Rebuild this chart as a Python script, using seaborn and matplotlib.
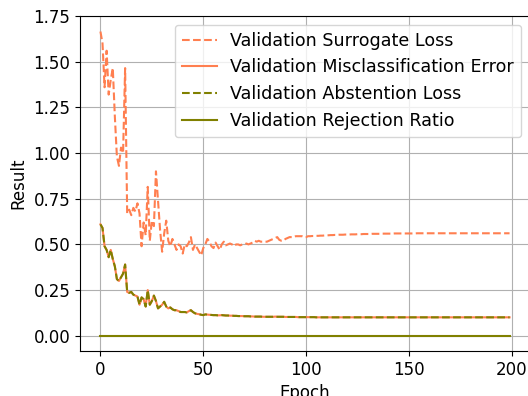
import numpy as np
import pandas as pd
import matplotlib
matplotlib.use("Agg")
import matplotlib.pyplot as plt
import seaborn as sns

epochs = list(range(200))

surrogate_loss = [
    1.665, 1.60, 1.36, 1.56, 1.32, 1.40, 1.465, 1.20, 0.98, 0.93,
    1.03, 1.00, 1.465, 0.67, 0.69, 0.66, 0.70, 0.68, 0.725, 0.67,
    0.49, 0.62, 0.55, 0.815, 0.52, 0.63, 0.60, 0.90, 0.74, 0.58,
    0.46, 0.56, 0.63, 0.52, 0.49, 0.53, 0.50, 0.47, 0.50, 0.49,
    0.45, 0.50, 0.49, 0.51, 0.54, 0.47, 0.50, 0.48, 0.46, 0.44,
    0.48, 0.50, 0.53, 0.515, 0.49, 0.48, 0.51, 0.49, 0.47, 0.50,
    0.515, 0.495, 0.50, 0.505, 0.50, 0.49, 0.50, 0.50, 0.495, 0.50,
    0.50, 0.505, 0.50, 0.505, 0.51, 0.52, 0.515, 0.52, 0.515, 0.515,
    0.515, 0.515, 0.52, 0.525, 0.53, 0.535, 0.54, 0.525, 0.52, 0.52,
    0.53, 0.535, 0.54, 0.54, 0.54, 0.545, 0.545, 0.545, 0.545, 0.54,
    0.54, 0.545, 0.545, 0.546, 0.546, 0.547, 0.547, 0.548, 0.548, 0.549,
    0.55, 0.55, 0.551, 0.551, 0.552, 0.552, 0.553, 0.553, 0.553, 0.554,
    0.554, 0.554, 0.555, 0.555, 0.555, 0.556, 0.556, 0.556, 0.557, 0.557,
    0.557, 0.557, 0.558, 0.558, 0.558, 0.558, 0.558, 0.559, 0.559, 0.559,
    0.559, 0.559, 0.559, 0.56, 0.56, 0.56, 0.56, 0.56, 0.56, 0.56,
    0.56, 0.56, 0.56, 0.56, 0.561, 0.561, 0.561, 0.561, 0.561, 0.561,
    0.561, 0.561, 0.561, 0.561, 0.561, 0.561, 0.561, 0.561, 0.561, 0.561,
    0.561, 0.561, 0.561, 0.561, 0.561, 0.561, 0.561, 0.561, 0.561, 0.561,
    0.561, 0.561, 0.561, 0.561, 0.561, 0.561, 0.561, 0.561, 0.561, 0.561,
    0.561, 0.561, 0.561, 0.561, 0.561, 0.561, 0.561, 0.561, 0.561, 0.561,
]

misclassification_error = [
    0.61, 0.59, 0.49, 0.47, 0.43, 0.47, 0.42, 0.38, 0.31, 0.30,
    0.32, 0.34, 0.39, 0.24, 0.235, 0.24, 0.225, 0.22, 0.215, 0.17,
    0.21, 0.20, 0.16, 0.25, 0.17, 0.19, 0.22, 0.19, 0.15, 0.16,
    0.17, 0.186, 0.16, 0.15, 0.155, 0.145, 0.14, 0.14, 0.135, 0.13,
    0.13, 0.13, 0.128, 0.135, 0.14, 0.13, 0.123, 0.12, 0.118, 0.115,
    0.113, 0.117, 0.116, 0.115, 0.114, 0.113, 0.113, 0.112, 0.112, 0.113,
    0.112, 0.111, 0.111, 0.11, 0.11, 0.109, 0.109, 0.108, 0.108, 0.108,
    0.107, 0.107, 0.107, 0.106, 0.106, 0.105, 0.105, 0.105, 0.105, 0.104,
    0.104, 0.104, 0.104, 0.104, 0.104, 0.105, 0.104, 0.104, 0.104, 0.104,
    0.103, 0.103, 0.103, 0.103, 0.103, 0.103, 0.102, 0.102, 0.102, 0.102,
    0.102, 0.102, 0.102, 0.102, 0.102, 0.101, 0.101, 0.101, 0.101, 0.101,
    0.101, 0.101, 0.101, 0.101, 0.101, 0.101, 0.101, 0.101, 0.101, 0.101,
    0.101, 0.101, 0.101, 0.101, 0.101, 0.101, 0.101, 0.101, 0.101, 0.101,
    0.101, 0.101, 0.101, 0.101, 0.101, 0.101, 0.101, 0.101, 0.101, 0.101,
    0.101, 0.101, 0.101, 0.101, 0.101, 0.101, 0.101, 0.101, 0.101, 0.101,
    0.101, 0.101, 0.101, 0.101, 0.101, 0.101, 0.101, 0.101, 0.101, 0.101,
    0.101, 0.101, 0.101, 0.101, 0.101, 0.101, 0.101, 0.101, 0.101, 0.101,
    0.101, 0.101, 0.101, 0.101, 0.101, 0.101, 0.101, 0.101, 0.101, 0.101,
    0.101, 0.101, 0.101, 0.101, 0.101, 0.101, 0.101, 0.101, 0.101, 0.101,
    0.101, 0.101, 0.101, 0.101, 0.101, 0.101, 0.101, 0.101, 0.101, 0.101,
]

# Abstention loss coincides with the misclassification error (no rejections)
abstention_loss = list(misclassification_error)
rejection_ratio = [0.0] * 200

series = [
    ("Validation Surrogate Loss", surrogate_loss, "coral", "--"),
    ("Validation Misclassification Error", misclassification_error, "coral", "-"),
    ("Validation Abstention Loss", abstention_loss, "olive", "--"),
    ("Validation Rejection Ratio", rejection_ratio, "olive", "-"),
]

plt.rcParams["font.size"] = 12
plt.rcParams["font.family"] = ["DejaVu Sans"]

fig = plt.figure(figsize=(5.28, 3.96), dpi=100)
ax = fig.add_axes([80 / 528, 45 / 396, 450 / 528, 335 / 396])

for label, vals, color, ls in series:
    df = pd.DataFrame({"Epoch": epochs, "Result": vals})
    sns.lineplot(data=df, x="Epoch", y="Result", ax=ax, color=color,
                 linestyle=ls, label=label, linewidth=1.5)

ax.grid(True)
ax.set_xlabel("Epoch")
ax.set_ylabel("Result")
ax.set_xticks([0, 50, 100, 150, 200])
ax.set_yticks([0.0, 0.25, 0.5, 0.75, 1.0, 1.25, 1.5, 1.75])
ax.legend(loc="upper right", fontsize=12.6)

fig.savefig("out.png", dpi=100)
